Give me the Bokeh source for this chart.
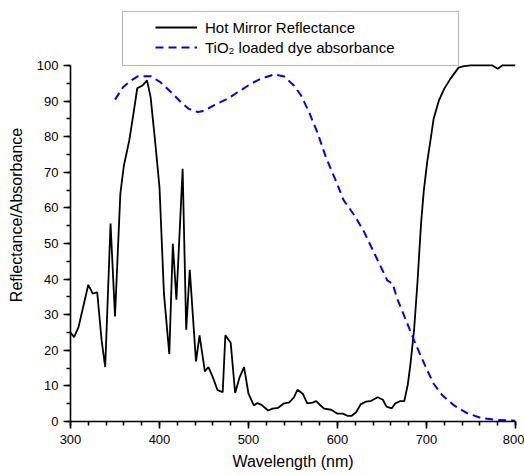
from bokeh.plotting import figure
from bokeh.models import (Legend, LegendItem, BoxAnnotation, SingleIntervalTicker,
                          Range1d)
from bokeh.embed import file_html
from bokeh.resources import INLINE

# ---- data -------------------------------------------------------------
mirror_wl = [300, 304, 309, 320, 325, 330, 335, 339, 345, 350, 356, 360, 366, 371, 375,
             381, 386, 390, 395, 400, 405, 411, 415, 419, 426, 430, 434, 441, 445, 451,
             455, 460, 465, 471, 474, 480, 485, 490, 495, 500, 506, 510, 515, 522, 527,
             533, 540, 546, 551, 555, 561, 566, 572, 576, 581, 585, 593, 600, 606, 611,
             616, 621, 626, 632, 637, 645, 651, 655, 661, 665, 670, 675, 679, 682, 686,
             690, 692, 694, 697, 701, 705, 708, 714, 720, 727, 736, 742, 750, 774, 780,
             785, 800]
mirror_refl = [25.0, 23.7, 26.5, 38.4, 35.9, 36.3, 22.7, 15.3, 55.6, 29.5, 64.0, 71.9, 78.9,
               86.9, 93.6, 94.4, 95.8, 91.1, 78.9, 65.8, 35.9, 19.0, 49.9, 34.2, 71.0, 25.8,
               42.6, 16.9, 24.2, 14.1, 15.3, 12.4, 8.9, 8.2, 24.2, 22.1, 8.0, 12.4, 15.3,
               7.8, 4.5, 5.2, 4.6, 3.1, 3.6, 3.8, 5.1, 5.4, 6.8, 8.9, 7.8, 5.1, 5.3, 5.7,
               4.5, 3.6, 3.3, 2.2, 2.2, 1.6, 1.6, 2.6, 4.8, 5.6, 5.7, 6.8, 6.1, 4.2, 3.7,
               5.1, 5.7, 5.7, 10.4, 16.2, 25.6, 39.6, 48.0, 56.0, 64.9, 73.3, 79.9, 85.0,
               90.2, 93.5, 96.3, 99.4, 99.8, 100.0, 100.0, 99.1, 100.0, 100.0]

dye_wl = [350, 359, 368, 376, 390, 401, 413, 424, 433, 443, 450, 461, 476, 491, 503, 514,
          529, 540, 551, 559, 568, 578, 587, 598, 607, 619, 630, 638, 647, 656, 662, 667,
          677, 686, 695, 701, 708, 718, 731, 746, 761, 776, 800]
dye_abs = [90.4, 93.9, 95.8, 97.0, 97.0, 95.3, 92.5, 89.7, 87.8, 86.9, 87.2, 88.8, 90.6,
           93.0, 94.9, 96.3, 97.5, 96.9, 94.4, 91.6, 86.9, 80.8, 74.2, 67.7, 62.1, 57.9,
           53.2, 49.0, 44.3, 39.6, 38.7, 34.5, 28.4, 22.8, 17.6, 14.3, 10.6, 7.3, 4.5,
           2.3, 1.0, 0.5, 0.2]

series_labels = ["Hot Mirror Reflectance", "TiO\u2082 loaded dye absorbance"]
x_title = "Wavelength (nm)"
y_title = "Reflectance/Absorbance"

FONT = "Liberation Sans"

# ---- figure -----------------------------------------------------------
p = figure(frame_width=445, frame_height=413,
           min_border_left=70, min_border_right=9, min_border_top=8, min_border_bottom=54,
           x_range=Range1d(300, 800), y_range=Range1d(0, 116),
           output_backend="svg", toolbar_location=None)
p.outline_line_color = None
p.grid.visible = False
p.background_fill_color = "white"
p.border_fill_color = "white"

r1 = p.line(mirror_wl, mirror_refl, line_color="black", line_width=1.8)
r2 = p.line(dye_wl, dye_abs, line_color="#0000ff", line_width=2, line_dash="8 5")

# axes
xa = p.xaxis[0]
ya = p.yaxis[0]
xa.ticker = SingleIntervalTicker(interval=100, num_minor_ticks=5)
ya.ticker = SingleIntervalTicker(interval=10, num_minor_ticks=2)
ya.bounds = (0, 100)
xa.bounds = (300, 800)
for ax in (xa, ya):
    ax.axis_line_width = 1.6
    ax.axis_line_color = "black"
    ax.major_tick_line_width = 1.6
    ax.minor_tick_line_width = 1.6
    ax.major_tick_in = 0
    ax.major_tick_out = 7
    ax.minor_tick_in = 0
    ax.minor_tick_out = 4
    ax.major_label_text_font = FONT
    ax.major_label_text_font_size = "13px"
    ax.major_label_text_color = "black"
    ax.axis_label_text_font = FONT
    ax.axis_label_text_font_size = "16px"
    ax.axis_label_text_font_style = "normal"
    ax.axis_label_text_color = "black"
xa.axis_label = x_title
ya.axis_label = y_title
xa.major_label_standoff = 6
xa.axis_label_standoff = 6
ya.major_label_standoff = 5
ya.axis_label_standoff = 9

# legend frame + legend
box = BoxAnnotation(left=358.4, right=736, bottom=100, top=115.2,
                    fill_color=None, line_color="black", line_width=1)
p.add_layout(box)

legend = Legend(items=[LegendItem(label=series_labels[0], renderers=[r1]),
                       LegendItem(label=series_labels[1], renderers=[r2])],
                location=(85, 364), padding=0, spacing=0,
                glyph_width=42, glyph_height=20, label_height=20, label_standoff=8,
                border_line_color=None, background_fill_alpha=0,
                label_text_font=FONT, label_text_font_size="15px",
                label_text_color="black")
p.add_layout(legend)

open("out.html", "w").write(file_html(p, INLINE))
